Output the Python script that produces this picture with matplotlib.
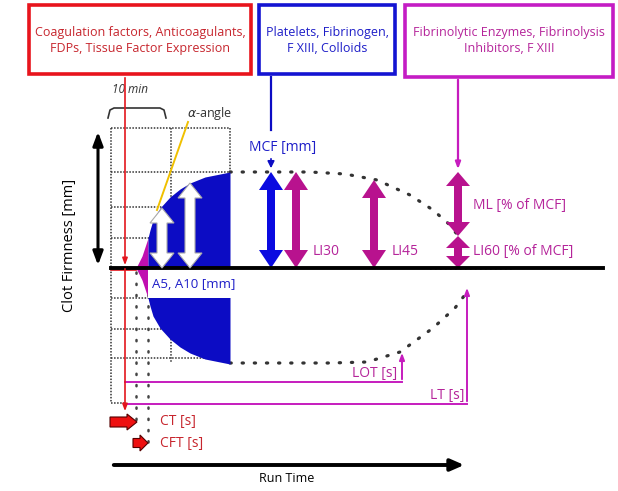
import numpy as np
import matplotlib
matplotlib.use('Agg')
from matplotlib import pyplot as plt
from matplotlib.patches import Polygon, Rectangle

plt.rcParams['font.family'] = ['Open Sans', 'DejaVu Sans']

# baseline of the trace (pixel row) and the clot trace: time (px) vs amplitude (px)
base = 268
trace_t = [136, 142, 148, 150, 153, 160, 170, 180, 190, 205, 230]
trace_amp = [0, 12, 30, 38, 48, 60, 71, 79, 85, 91, 96]
lysis_up_t = [230, 270, 310, 345, 377, 410, 433, 450, 456]
lysis_up_amp = [96, 96, 96, 94, 88, 73, 58, 43, 35]
lysis_lo_t = [230, 280, 330, 367, 400, 433, 455, 464]
lysis_lo_amp = [95, 95, 95, 94, 84, 60, 40, 28]

# parameter markers
ct, cft = 136, 148
a5_t, a10_t = 162, 190
mcf_t, li30_t, li45_t, ml_t = 271, 296, 374, 458
li45_amp = 88
ml_split_amp = 32
lot_t, lot_amp = 402, 82
lt_t, lt_amp = 467, 17

boxes = [
    ('Coagulation factors, Anticoagulants,\nFDPs, Tissue Factor Expression', 29, 251, '#e8141c', '#c7262e'),
    ('Platelets, Fibrinogen,\nF XIII, Colloids', 259, 395, '#1414d2', '#1e1ec8'),
    ('Fibrinolytic Enzymes, Fibrinolysis\nInhibitors, F XIII', 405, 613, '#c41cc4', '#b5249a'),
]

RED, BLUE, MAG, MAGL = '#e3161e', '#0c0cc4', '#b8128e', '#c61cbe'
TRED, TBLUE, TMAG = '#c7262e', '#1e1ec8', '#b5249a'

fig = plt.figure(figsize=(6.18, 4.91), dpi=100)
ax = fig.add_axes([0, 0, 1, 1])
ax.set_xlim(0, 618)
ax.set_ylim(491, 0)
ax.axis('off')


def yy(amp, sign=1):
    return base - sign * np.asarray(amp, dtype=float)


def darrow(x, y0, y1, color, sw=4.5, hw=12, hl=17, ec='none', z=5):
    pts = [(x, y0), (x + hw, y0 + hl), (x + sw, y0 + hl), (x + sw, y1 - hl),
           (x + hw, y1 - hl), (x, y1), (x - hw, y1 - hl), (x - sw, y1 - hl),
           (x - sw, y0 + hl), (x - hw, y0 + hl)]
    ax.add_patch(Polygon(pts, closed=True, fc=color, ec=ec, lw=0.8, zorder=z))


def rarrow(x0, x1, yc, h=5, hh=8, hl=10):
    pts = [(x0, yc - h), (x1 - hl, yc - h), (x1 - hl, yc - hh), (x1, yc),
           (x1 - hl, yc + hh), (x1 - hl, yc + h), (x0, yc + h)]
    ax.add_patch(Polygon(pts, closed=True, fc='#ee1010', ec='#550000', lw=0.8, zorder=6))


# boxes
for txt, x0, x1, ec, tc in boxes:
    y1 = 77 if x0 > 400 else 74
    ax.add_patch(Rectangle((x0, 5), x1 - x0, y1 - 5, fill=False, ec=ec, lw=2.6, zorder=4))
    ax.text((x0 + x1) / 2, 40, txt, color=tc, fontsize=9, ha='center', va='center',
            linespacing=1.3, zorder=5)

# dotted grid
gkw = dict(color='#333333', lw=1.1, ls=(0, (1, 1)), zorder=1)
for y in [128, 172, 207, 238, 298, 329, 358]:
    ax.plot([111, 230], [y, y], **gkw)
ax.plot([111, 111], [128, 403], **gkw)
ax.plot([171, 171], [128, 362], **gkw)
ax.plot([230, 230], [128, 172], **gkw)
ax.plot([111, 125], [403, 403], **gkw)

# CT / CFT dotted markers
dkw = dict(color='#444444', lw=1.8, ls=(0, (0.5, 4)), dash_capstyle='round', zorder=2)
ax.plot([ct, ct], [272, 428], **dkw)
ax.plot([cft, cft], [272, 452], **dkw)

# clot trace: magenta from CT to CFT, blue after
t = np.array(trace_t, dtype=float)
a = np.array(trace_amp, dtype=float)
m = t <= cft
ax.fill_between(t[m], yy(a[m]), yy(a[m], -1), color='#c010b0', lw=0, zorder=3)
ax.fill_between(t[t >= cft], yy(a[t >= cft]), yy(a[t >= cft], -1), color=BLUE, lw=0, zorder=3)

# white label strip for A5/A10
ax.add_patch(Rectangle((cft, base + 1), 230 - cft + 1, 29, fc='white', ec='none', zorder=4))
ax.text(152, 284, 'A5, A10 [mm]', color=TBLUE, fontsize=9.5, va='center', zorder=5)

# lysis dotted continuation
lkw = dict(color='#333333', lw=2.3, ls=(0, (0.4, 3.4)), dash_capstyle='round', zorder=2)
ax.plot(lysis_up_t, yy(lysis_up_amp), **lkw)
ax.plot(lysis_lo_t, yy(lysis_lo_amp, -1), **lkw)
ax.plot([430, 515], [base + 1, base + 1], color='#555555', lw=1.2, ls=(0, (1, 2)), zorder=2)

# baseline and run time axis
ax.plot([111, 603], [base, base], color='black', lw=2.8, zorder=6)
ax.annotate('', xy=(467, 465), xytext=(111, 465),
            arrowprops=dict(arrowstyle='-|>,head_length=0.8,head_width=0.35', color='black', lw=2.8))
ax.text(287, 478, 'Run Time', fontsize=9, ha='center', va='center')

# clot firmness axis
ax.annotate('', xy=(98, 129), xytext=(98, 268),
            arrowprops=dict(arrowstyle='<|-|>,head_length=0.8,head_width=0.3', color='black', lw=2.2))
ax.text(70, 245, 'Clot Firmness [mm]', fontsize=10.5, rotation=90, ha='center', va='center')

# red CT line
ax.plot([111, ct], [270, 270], color=RED, lw=1.2, zorder=5)
ax.annotate('', xy=(125, 268), xytext=(125, 75),
            arrowprops=dict(arrowstyle='-|>,head_length=0.4,head_width=0.15', color=RED, lw=1.2), zorder=7)
ax.annotate('', xy=(125, 414), xytext=(125, 266),
            arrowprops=dict(arrowstyle='-|>,head_length=0.4,head_width=0.15', color=RED, lw=1.2), zorder=7)
rarrow(110, 137, 422)
rarrow(133, 148, 443, h=4.5, hh=8, hl=8)
ax.text(160, 421, 'CT [s]', color=TRED, fontsize=10, va='center')
ax.text(160, 444, 'CFT [s]', color=TRED, fontsize=10, va='center')

# 10 min brace
bx = [108, 110, 114, 160, 164, 166]
by = [118, 110, 108, 108, 110, 118]
ax.plot(bx, by, color='#333333', lw=1.2)
ax.text(112, 89, '10 min', fontsize=8.5, style='italic', color='#333333', va='center')

# alpha angle
ax.plot([157, 188], [210, 122], color='#f0c000', lw=1.4, zorder=6)
ax.text(187, 113, r'$\alpha$-angle', fontsize=9, color='#333333', va='center')

# A5 / A10 white arrows
darrow(a5_t, yy(60), base, 'white', sw=5, hw=12, hl=15, ec='#aaaaaa', z=6)
darrow(a10_t, yy(85), base, 'white', sw=5, hw=12, hl=15, ec='#aaaaaa', z=6)

# MCF
ax.plot([mcf_t, mcf_t], [77, 130], color=BLUE, lw=1.6)
ax.text(249, 147, 'MCF [mm]', color=TBLUE, fontsize=10, va='center')
ax.annotate('', xy=(mcf_t, 171), xytext=(mcf_t, 156),
            arrowprops=dict(arrowstyle='-|>,head_length=0.4,head_width=0.2', color=BLUE, lw=1.2))
darrow(mcf_t, yy(96), base, '#0a0ae0', sw=4, hw=12, hl=18)

# lysis indices
darrow(li30_t, yy(96), base, MAG, sw=4, hw=12, hl=18)
ax.text(313, 251, 'LI30', color=TMAG, fontsize=10, va='center')
darrow(li45_t, yy(li45_amp), base, MAG, sw=4, hw=12, hl=18)
ax.text(392, 251, 'LI45', color=TMAG, fontsize=10, va='center')
ax.annotate('', xy=(ml_t, 172), xytext=(ml_t, 77),
            arrowprops=dict(arrowstyle='-|>,head_length=0.4,head_width=0.15', color=MAGL, lw=1.6))
darrow(ml_t, yy(96), yy(ml_split_amp), MAG, sw=4, hw=12, hl=14)
darrow(ml_t, yy(ml_split_amp), base, MAG, sw=4, hw=12, hl=12)
ax.text(473, 205, 'ML [% of MCF]', color=TMAG, fontsize=10, va='center')
ax.text(473, 252, 'LI60 [% of MCF]', color=TMAG, fontsize=10, va='center')

# LOT / LT
ax.plot([125, lot_t], [382, 382], color=MAGL, lw=1.4)
ax.annotate('', xy=(lot_t, yy(lot_amp, -1)), xytext=(lot_t, 382),
            arrowprops=dict(arrowstyle='-|>,head_length=0.4,head_width=0.15', color=MAGL, lw=1.4))
ax.text(352, 373, 'LOT [s]', color=TMAG, fontsize=10, va='center')
ax.plot([125, lt_t], [404, 404], color=MAGL, lw=1.4)
ax.annotate('', xy=(lt_t, yy(lt_amp, -1)), xytext=(lt_t, 404),
            arrowprops=dict(arrowstyle='-|>,head_length=0.4,head_width=0.15', color=MAGL, lw=1.4))
ax.text(430, 395, 'LT [s]', color=TMAG, fontsize=10, va='center')

fig.savefig('out.png', dpi=100)
